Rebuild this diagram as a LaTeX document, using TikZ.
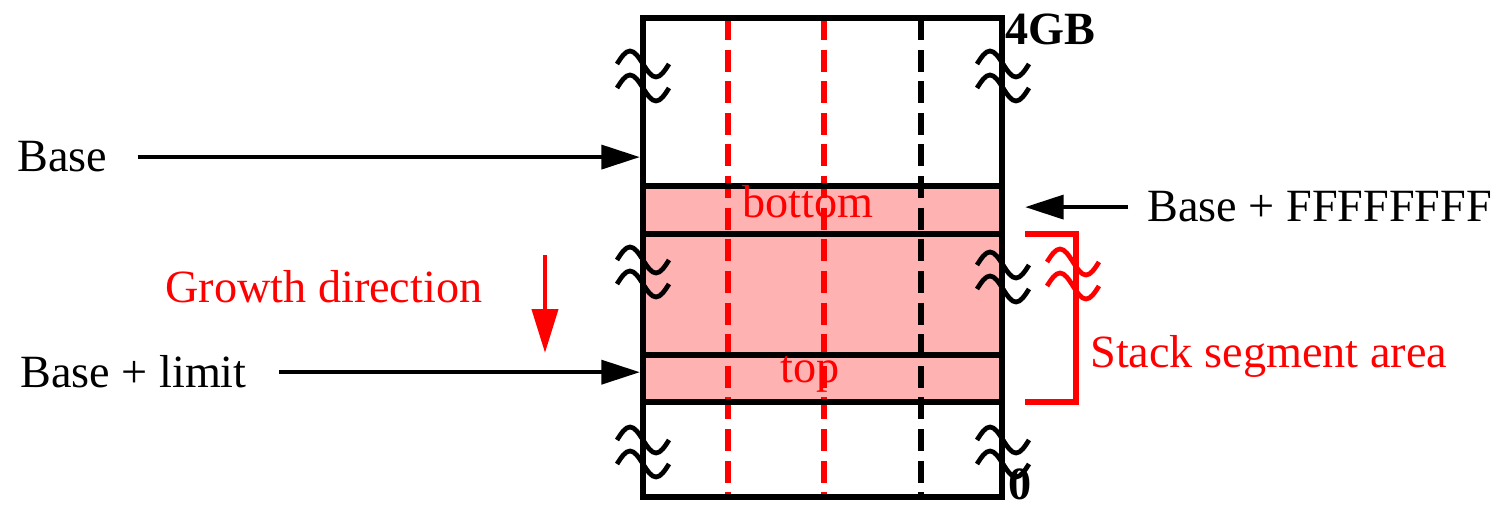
\documentclass[tikz,border=0pt]{standalone}
\usepackage{fontspec}
\setmainfont{Liberation Serif}
\usetikzlibrary{arrows.meta}

\begin{document}
\begin{tikzpicture}[x=0.02cm, y=-0.02cm,
  lbl/.style={font=\fontsize{26.3}{30}\selectfont, inner sep=0pt},
  ptr/.style={-{Triangle[length=22pt,width=13.5pt]}, line width=2.6pt},
  wall/.style={line width=2.9pt},
  dsh/.style={line width=2.9pt, dash pattern=on 12.5pt off 5.5pt},
  brk/.style={line width=2.7pt}]
  \useasboundingbox (0,0) rectangle (1505,506);
  % memory column
  \fill[red!30] (643,186) rectangle (1002,402);
  \foreach \x in {728,824} \draw[dsh, red] (\x,18) -- (\x,497);
  \draw[dsh] (921,18) -- (921,497);
  \draw[wall] (643,18) rectangle (1002,497);
  \foreach \y in {186,234,355,402} \draw[wall] (643,\y) -- (1002,\y);
  \coordinate (memL) at (640,0);
  \coordinate (memR) at (1025,0);
  % break marks
  \foreach \x/\y in {617/64,617/88,617/260,617/284,617/440,617/464,
                     977/64,977/88,977/265,977/289,977/440,977/464}
    \draw[brk] (\x,\y) sin ++(13,-13) cos ++(13,13) sin ++(13,13) cos ++(13,-13);
  \foreach \y in {262,286}
    \draw[brk, red] (1047,\y) sin ++(13,-13) cos ++(13,13) sin ++(13,13) cos ++(13,-13);
  % labels
  \node[lbl, anchor=base west] (base) at (17,172) {Base};
  \node[lbl, anchor=base west] (limit) at (20,388) {Base + limit};
  \node[lbl, anchor=base west] (top) at (1147,222) {Base + FFFFFFFF};
  \node[lbl, anchor=base west, red] (grow) at (165,303) {Growth direction};
  \node[lbl, anchor=base west, red] (area) at (1090,368) {Stack segment area};
  \node[lbl, anchor=base, red] (bot) at (808,218) {bottom};
  \node[lbl, anchor=base, red] (tp) at (810,383) {top};
  \node[lbl, anchor=base west, font=\fontsize{26.3}{30}\selectfont\bfseries] (gb) at (1005,45) {4GB};
  \node[lbl, anchor=base west, font=\fontsize{26.3}{30}\selectfont\bfseries] (zero) at (1008,500) {0};
  % pointers
  \draw[ptr] ([xshift=0.6cm]base.east) -- (base.east -| memL);
  \draw[ptr] ([xshift=0.64cm]limit.east) -- (limit.east -| memL);
  \draw[ptr] ([xshift=-0.38cm]top.west) -- (top.west -| memR);
  \coordinate (gs) at (545,255);
  \coordinate (ge) at (545,353);
  \draw[ptr, red, -{Triangle[length=25pt,width=14.7pt]}] (gs) -- (ge);
  % stack bracket
  \draw[red, line width=2.9pt] (1025,234) -- (1076,234) -- (1076,402) -- (1025,402);
\end{tikzpicture}
\end{document}
